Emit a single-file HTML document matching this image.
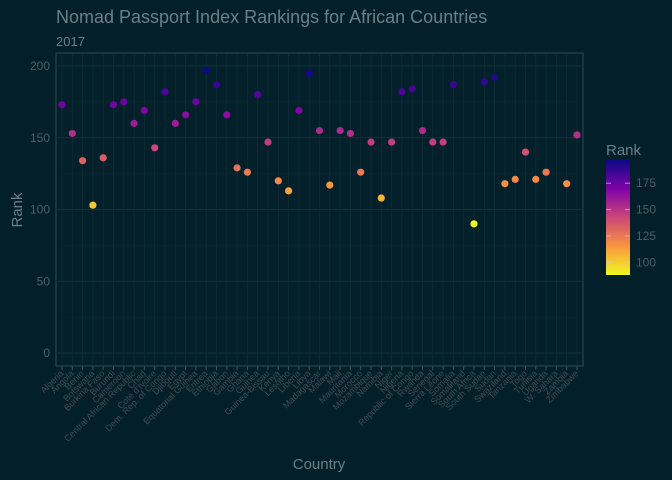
<!DOCTYPE html>
<html><head><meta charset="utf-8"><style>
html,body{margin:0;padding:0;background:#03202a;overflow:hidden;width:672px;height:480px;}
svg{display:block;}
svg text{font-family:"Liberation Sans",sans-serif;}
</style></head><body>
<svg id="c" width="672" height="480" xmlns="http://www.w3.org/2000/svg">
<defs><linearGradient id="g" x1="0" y1="1" x2="0" y2="0">
<stop offset="0" stop-color="#f0f921"/><stop offset="0.25" stop-color="#f89540"/><stop offset="0.5" stop-color="#cc4778"/><stop offset="0.75" stop-color="#7e03a8"/><stop offset="1" stop-color="#0d0887"/></linearGradient></defs>
<rect width="672" height="480" fill="#03202a"/>
<text x="56" y="23" font-size="18" fill="#6a7f87">Nomad Passport Index Rankings for African Countries</text>
<text x="56" y="46" font-size="13" fill="#6a7f87">2017</text>
<rect x="56" y="53" width="527" height="313" fill="#04202a" stroke="#2f4a52" stroke-width="1"/>
<g id="grid"></g><g id="xt"></g><g id="yt"></g><g id="pts"></g>
<text x="22" y="210" font-size="15" fill="#6a7f87" transform="rotate(-90 22 210)" text-anchor="middle">Rank</text>
<text x="319" y="469" font-size="15" fill="#6a7f87" text-anchor="middle">Country</text>
<text x="606" y="155" font-size="15" fill="#6a7f87">Rank</text>
<rect x="606" y="160" width="24" height="115" fill="url(#g)"/>
<g id="lg"></g>
</svg>
<script>
const countries=["Algeria","Angola","Benin","Botswana","Burkina Faso","Burundi","Cameroon","Central African Republic","Chad","Cote d'Ivoire","Dem. Rep. of Congo","Djibouti","Egypt","Equatorial Guinea","Eritrea","Ethiopia","Gabon","Gambia","Ghana","Guinea","Guinea-Bissau","Kenya","Lesotho","Liberia","Libya","Madagascar","Malawi","Mali","Mauritania","Morocco","Mozambique","Namibia","Niger","Nigeria","Republic of Congo","Rwanda","Senegal","Sierra Leone","Somalia","Somaliland","South Africa","South Sudan","Sudan","Swaziland","Tanzania","Togo","Tunisia","Uganda","W. Sahara","Zambia","Zimbabwe"];
const ranks=[173,153,134,103,136,173,175,160,169,143,182,160,166,175,197,187,166,129,126,180,147,120,113,169,195,155,117,155,153,126,147,108,147,182,184,155,147,147,187,null,90,189,192,118,121,140,121,126,null,118,152];
const yTicks=[0,50,100,150,200];
const legendTicks=[100,125,150,175];
const NS="http://www.w3.org/2000/svg";
function mk(t,a,p){const e=document.createElementNS(NS,t);for(const k in a)e.setAttribute(k,a[k]);p.appendChild(e);return e;}
const X0=56,X1=583,Y0=353,YS=1.435;
const xs=i=>62+i*(577-62)/(countries.length-1);
const ys=v=>Y0-v*YS;
const vmin=90,vmax=197;
const stops=[[13,8,135],[126,3,168],[204,71,120],[248,149,64],[240,249,33]];
function col(v){let t=(vmax-v)/(vmax-vmin);t=Math.max(0,Math.min(1,t))*4;const i=Math.min(3,Math.floor(t)),f=t-i;const a=stops[i],b=stops[i+1];return `rgb(${a.map((c,k)=>Math.round(c+(b[k]-c)*f)).join(",")})`;}
const grid=document.getElementById("grid"),xt=document.getElementById("xt"),yt=document.getElementById("yt"),pts=document.getElementById("pts"),lg=document.getElementById("lg");
for(let v=-25;v<=225;v+=25){const y=ys(v);if(y<54||y>365)continue;const l=mk("line",{x1:X0,x2:X1,y1:y,y2:y,stroke:v%50===0?"#10333d":"#0a2a33","stroke-width":v%50===0?1:0.6},grid);

}
yTicks.forEach(v=>{const t=mk("text",{x:50,y:ys(v)+4,"font-size":12,fill:"#4b5f66","text-anchor":"end"},yt);t.textContent=v;

});
countries.forEach((c,i)=>{const x=xs(i);
const g=mk("line",{x1:x,x2:x,y1:54,y2:365,stroke:"#0d2e37","stroke-width":0.8},grid);


const tk=mk("line",{x1:x,x2:x,y1:366,y2:370,stroke:"#3a555c"},xt);


const t=mk("text",{x:x+2,y:374,"font-size":9,fill:"#3d4d52","text-anchor":"end",transform:`rotate(-45 ${x+2} 374)`},xt);t.textContent=c;


const v=ranks[i];if(v==null)return;
const p=mk("circle",{cx:x,cy:ys(v),r:3.6,fill:col(v)},pts);

});
legendTicks.forEach(v=>{const y=275-(v-88)*(115/(197-88));
mk("line",{x1:606,x2:611,y1:y,y2:y,stroke:"#e0c8c8","stroke-width":1,opacity:0.7},lg);
mk("line",{x1:625,x2:630,y1:y,y2:y,stroke:"#e0c8c8","stroke-width":1,opacity:0.7},lg);
const t=mk("text",{x:636,y:y+4,"font-size":12,fill:"#4b5f66"},lg);t.textContent=v;

});
</script>
</body></html>
